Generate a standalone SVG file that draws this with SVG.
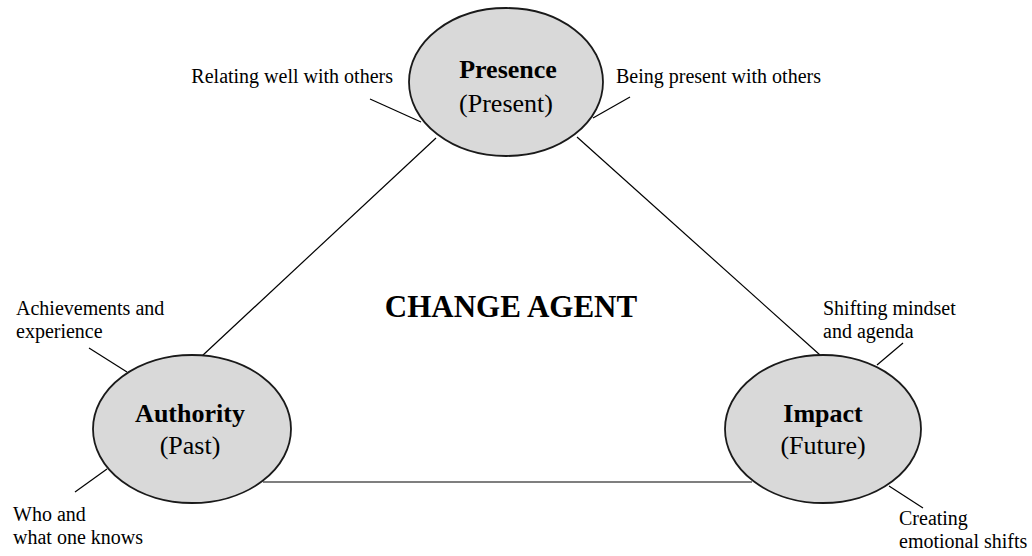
<svg xmlns="http://www.w3.org/2000/svg" width="1032" height="556" viewBox="0 0 1032 556">
<style>
.node{fill:#d9d9d9;stroke:#1a1a1a;stroke-width:1.8}
.title{font-family:"Liberation Serif","Times New Roman",serif;font-weight:bold;font-size:26px;fill:#000;text-anchor:middle}
.sub{font-family:"Liberation Serif","Times New Roman",serif;font-size:26px;fill:#000;text-anchor:middle}
.note{font-family:"Liberation Serif","Times New Roman",serif;font-size:20px;fill:#000}
.big{font-family:"Liberation Serif","Times New Roman",serif;font-weight:bold;font-size:31px;fill:#000;text-anchor:middle}
.conn line{stroke:#000;stroke-width:1.2}
</style>
<rect width="1032" height="556" fill="#fff"/>
<g id="connectors" class="conn">
<line x1="202" y1="356" x2="436" y2="138"/>
<line x1="577" y1="137" x2="820" y2="355"/>
<line x1="263" y1="482" x2="752" y2="482"/>
<line x1="370" y1="99" x2="421" y2="122"/>
<line x1="593" y1="118" x2="630" y2="97"/>
<line x1="89" y1="348" x2="127" y2="372"/>
<line x1="107" y1="469" x2="75" y2="492"/>
<line x1="877" y1="365" x2="903" y2="343"/>
<line x1="889" y1="486" x2="923" y2="508"/>
</g>
<g id="presence">
<ellipse class="node" cx="506" cy="82" rx="97" ry="74"/>
<text class="title" x="508" y="78">Presence</text>
<text class="sub" x="506" y="112">(Present)</text>
</g>
<g id="authority">
<ellipse class="node" cx="192" cy="429" rx="99" ry="74"/>
<text class="title" x="190" y="422">Authority</text>
<text class="sub" x="190" y="454">(Past)</text>
</g>
<g id="impact">
<ellipse class="node" cx="823" cy="429" rx="98" ry="74"/>
<text class="title" x="823" y="422">Impact</text>
<text class="sub" x="823" y="454">(Future)</text>
</g>
<g id="labels">
<text class="big" x="511" y="317">CHANGE AGENT</text>
<text class="note" x="393" y="83" text-anchor="end">Relating well with others</text>
<text class="note" x="616" y="83">Being present with others</text>
<text class="note" x="16" y="315">Achievements and</text>
<text class="note" x="16" y="338">experience</text>
<text class="note" x="13" y="521">Who and</text>
<text class="note" x="13" y="544">what one knows</text>
<text class="note" x="823" y="315">Shifting mindset</text>
<text class="note" x="823" y="338">and agenda</text>
<text class="note" x="899" y="525">Creating</text>
<text class="note" x="899" y="548">emotional shifts</text>
</g>
</svg>
